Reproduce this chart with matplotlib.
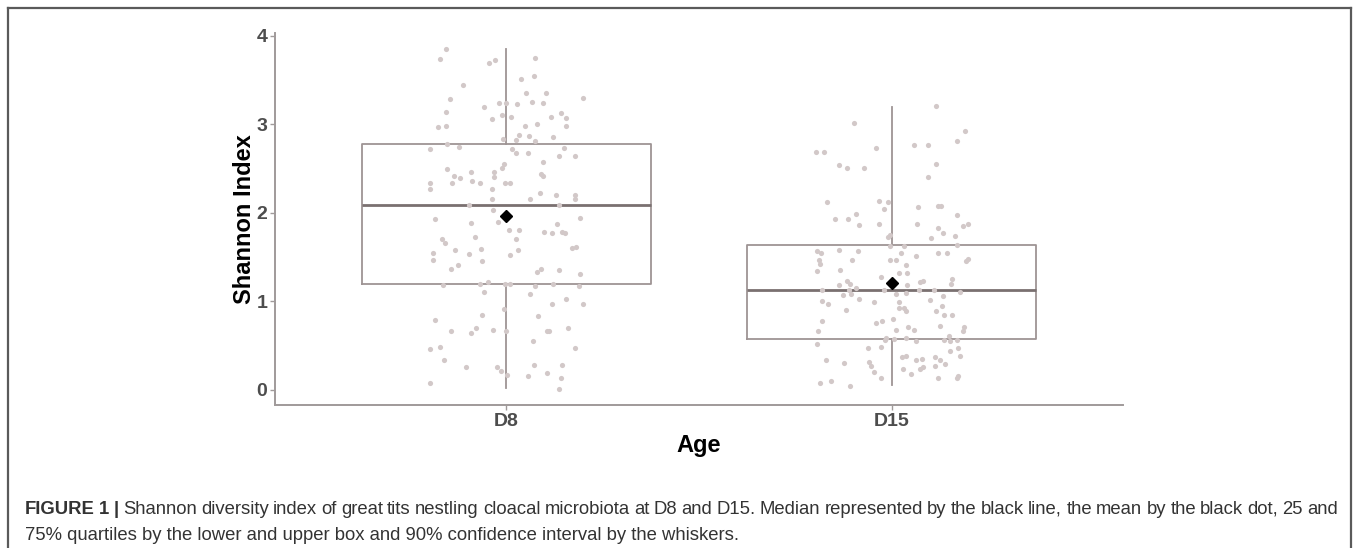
import numpy as np
import matplotlib
matplotlib.use("Agg")
import matplotlib.pyplot as plt
from matplotlib.lines import Line2D

# ------------------------- data ------------------------------------
groups = ["D8", "D15"]

# box statistics (median, quartiles, 90% CI whiskers, mean)
box_med = [2.09, 1.13]
box_q1 = [1.20, 0.58]
box_q3 = [2.78, 1.64]
box_lo = [0.02, 0.05]
box_hi = [3.85, 3.19]
box_mean = [1.96, 1.21]

# jittered raw points: horizontal offset from group centre, Shannon index
d8_dx = [-0.157, -0.173, -0.044, -0.028, 0.074, 0.038, 0.071, -0.111, 0.052, 0.102,
         0.199, -0.147, -0.019, 0.000, 0.027, 0.066, 0.094, -0.057, -0.157, -0.011,
         0.013, -0.038, 0.116, 0.143, 0.154, -0.178, -0.157, 0.048, 0.079, 0.155,
         0.058, 0.034, -0.009, 0.026, 0.075, 0.121, -0.153, -0.198, -0.122, 0.016,
         0.026, 0.057, 0.138, 0.177, 0.151, 0.094, -0.007, -0.011, -0.155, -0.135,
         -0.120, -0.091, -0.031, -0.033, 0.091, 0.095, -0.197, -0.197, -0.142, -0.088,
         -0.067, -0.036, -0.004, 0.009, -0.037, 0.061, 0.087, 0.129, 0.178, 0.178,
         -0.096, 0.136, -0.034, 0.192, -0.184,
         -0.091, -0.021, 0.132, 0.007, 0.034, 0.097, 0.118, 0.144, 0.152, -0.081,
         -0.166, -0.160, 0.024, -0.133, -0.066, 0.030, 0.171, 0.180, -0.190, -0.190,
         -0.096, 0.010, -0.063, -0.144, -0.124, 0.080, 0.090, 0.136, 0.190, -0.164,
         -0.069, -0.047, -0.004, 0.009, 0.075, 0.121, 0.189, -0.059, 0.062, 0.118,
         0.155, 0.199, -0.005, -0.063, 0.083, -0.184, -0.143, -0.079, -0.091, -0.035,
         -0.001, 0.106, 0.112, 0.161, 0.068, -0.198, -0.171, 0.177, -0.161, -0.105,
         -0.023, -0.013, 0.072, 0.145, 0.001, 0.057, 0.106, 0.141, -0.198, 0.138]
d8_y = [3.85, 3.74, 3.69, 3.72, 3.75, 3.51, 3.54, 3.44, 3.35, 3.35,
        3.29, 3.28, 3.24, 3.24, 3.23, 3.25, 3.24, 3.19, 3.14, 3.10,
        3.08, 3.06, 3.08, 3.12, 3.07, 2.97, 2.98, 2.98, 3.00, 2.98,
        2.87, 2.88, 2.83, 2.82, 2.81, 2.86, 2.78, 2.72, 2.74, 2.72,
        2.67, 2.67, 2.64, 2.64, 2.73, 2.57, 2.55, 2.50, 2.49, 2.42,
        2.39, 2.46, 2.46, 2.40, 2.44, 2.41, 2.33, 2.27, 2.33, 2.36,
        2.33, 2.27, 2.33, 2.34, 2.15, 2.15, 2.22, 2.20, 2.20, 2.16,
        2.09, 2.09, 2.03, 1.94, 1.93,
        1.88, 1.89, 1.87, 1.80, 1.81, 1.78, 1.77, 1.78, 1.77, 1.73,
        1.70, 1.66, 1.70, 1.58, 1.59, 1.58, 1.60, 1.61, 1.54, 1.47,
        1.53, 1.52, 1.45, 1.37, 1.41, 1.33, 1.37, 1.35, 1.31, 1.18,
        1.19, 1.22, 1.20, 1.20, 1.17, 1.19, 1.17, 1.11, 1.08, 0.97,
        1.03, 0.97, 0.91, 0.85, 0.83, 0.79, 0.67, 0.70, 0.64, 0.68,
        0.66, 0.66, 0.67, 0.70, 0.55, 0.46, 0.49, 0.47, 0.34, 0.26,
        0.26, 0.21, 0.28, 0.28, 0.17, 0.16, 0.19, 0.14, 0.08, 0.01]

d15_dx = [0.116, -0.097, 0.190, 0.169, 0.057, 0.093, -0.197, -0.177, -0.042, 0.116,
          -0.136, -0.116, -0.072, 0.093, -0.167, -0.034, -0.010, -0.019, 0.068, 0.120,
          0.127, -0.147, -0.114, -0.093, -0.086, -0.032, 0.065, 0.121, 0.133, 0.170,
          0.184, 0.198, 0.101, 0.164, -0.011, -0.005, -0.005, 0.033, 0.170, -0.195,
          -0.183, -0.136, -0.088, 0.023, -0.190, -0.185, -0.103, -0.004, 0.010, 0.062,
          0.119, 0.143, 0.192, 0.198, 0.036, -0.194, -0.134, -0.029, 0.018, 0.039,
          0.156, -0.117, -0.136, -0.092, -0.108, 0.039, 0.073, 0.082, 0.153, -0.180,
          -0.110, -0.019, 0.071, 0.109, -0.127, -0.105, -0.085, 0.012, 0.036, 0.133,
          0.176, -0.180, -0.165, -0.047, 0.020, 0.099, -0.120, 0.019, 0.033, 0.038,
          0.114, 0.129, 0.135, 0.156, -0.180, -0.041, -0.025, 0.004, -0.192, 0.011,
          0.043, 0.057, 0.126, 0.184, 0.187, -0.015, 0.006, 0.037, 0.062, -0.017,
          0.136, 0.148, 0.152, 0.168, -0.193, -0.061, -0.029, 0.150, 0.171, 0.027,
          0.036, 0.062, 0.079, 0.111, 0.124, 0.138, 0.178, -0.171, -0.123, -0.060,
          -0.055, -0.045, 0.030, 0.073, 0.081, 0.111, 0.051, 0.172, 0.170, -0.029,
          0.121, -0.185, -0.158, -0.109]
d15_y = [3.20, 3.01, 2.92, 2.81, 2.77, 2.77, 2.69, 2.68, 2.73, 2.55,
         2.54, 2.51, 2.51, 2.40, 2.12, 2.13, 2.12, 2.04, 2.06, 2.08,
         2.08, 1.93, 1.93, 1.98, 1.86, 1.87, 1.87, 1.83, 1.77, 1.97,
         1.85, 1.87, 1.72, 1.74, 1.73, 1.75, 1.63, 1.63, 1.64, 1.57,
         1.55, 1.58, 1.57, 1.55, 1.47, 1.42, 1.47, 1.47, 1.47, 1.51,
         1.54, 1.54, 1.45, 1.48, 1.41, 1.34, 1.35, 1.28, 1.32, 1.32,
         1.25, 1.23, 1.18, 1.15, 1.19, 1.18, 1.22, 1.23, 1.19, 1.13,
         1.13, 1.13, 1.13, 1.13, 1.07, 1.08, 1.03, 1.08, 1.09, 1.06,
         1.10, 1.00, 0.97, 0.99, 0.99, 1.02, 0.90, 0.92, 0.92, 0.89,
         0.89, 0.95, 0.85, 0.84, 0.78, 0.76, 0.78, 0.80, 0.67, 0.68,
         0.71, 0.68, 0.72, 0.67, 0.71, 0.59, 0.58, 0.59, 0.55, 0.56,
         0.56, 0.61, 0.55, 0.56, 0.52, 0.47, 0.48, 0.44, 0.47, 0.37,
         0.38, 0.34, 0.35, 0.37, 0.34, 0.29, 0.38, 0.34, 0.30, 0.31,
         0.27, 0.20, 0.24, 0.24, 0.26, 0.27, 0.18, 0.16, 0.14, 0.14,
         0.13, 0.08, 0.10, 0.04]

yticks = [0, 1, 2, 3, 4]
caption_bold = "FIGURE 1 |"
caption_l1 = ("Shannon diversity index of great tits nestling cloacal microbiota at D8 and D15. "
              "Median represented by the black line, the mean by the black dot, 25 and")
caption_l2 = "75% quartiles by the lower and upper box and 90% confidence interval by the whiskers."

# ------------------------- style ------------------------------------
plt.rcParams["font.family"] = ["Liberation Sans", "DejaVu Sans"]
BOX_C = "#9e9494"
MED_C = "#7a7070"
PT_C = "#d2c8c8"
AX_C = "#a09a9a"
TICK_C = "#4d4d4d"

fig = plt.figure(figsize=(13.58, 5.48), dpi=100)
ax = fig.add_axes([0.2025, 0.261, 0.6245, 0.679])

stats = []
for i in range(len(groups)):
    stats.append(dict(med=box_med[i], q1=box_q1[i], q3=box_q3[i],
                      whislo=box_lo[i], whishi=box_hi[i], mean=box_mean[i],
                      fliers=[], label=groups[i]))

ax.bxp(stats, positions=[1, 2], widths=0.75, showcaps=False, showfliers=False,
       showmeans=True, zorder=1,
       boxprops=dict(color=BOX_C, linewidth=1.3),
       whiskerprops=dict(color=BOX_C, linewidth=1.3),
       medianprops=dict(color=MED_C, linewidth=2.0),
       meanprops=dict(marker="D", markerfacecolor="black", markeredgecolor="black",
                      markersize=6, zorder=4))

ax.scatter(1 + np.array(d8_dx), d8_y, s=14, color=PT_C, linewidths=0, zorder=3)
ax.scatter(2 + np.array(d15_dx), d15_y, s=14, color=PT_C, linewidths=0, zorder=3)

ax.set_xlim(0.4, 2.6)
ax.set_ylim(-0.17, 4.03)
ax.set_xticks([1, 2])
ax.set_xticklabels(groups)
ax.set_yticks(yticks)
ax.set_yticklabels([str(t) for t in yticks])

for side in ["top", "right"]:
    ax.spines[side].set_visible(False)
for side in ["left", "bottom"]:
    ax.spines[side].set_color(AX_C)
    ax.spines[side].set_linewidth(1.4)
ax.tick_params(colors=AX_C, length=3.5, width=1.0, pad=2)
for lab in ax.get_xticklabels() + ax.get_yticklabels():
    lab.set_color(TICK_C)
    lab.set_fontweight("bold")
    lab.set_fontsize(14)

ax.set_ylabel("Shannon Index", fontsize=17, fontweight="bold", color="black", labelpad=0)
ax.set_xlabel("Age", fontsize=17, fontweight="bold", color="black", labelpad=3)

# frame around the figure panel (no bottom edge)
fw, fh = 1358, 548
for xs, ys in [((8, 1351), (fh - 8, fh - 8)), ((8, 8), (fh - 8, 0)), ((1351, 1351), (fh - 8, 0))]:
    fig.add_artist(Line2D([x / fw for x in xs], [y / fh for y in ys], color="#5a5a5a",
                          linewidth=1.6, transform=fig.transFigure))

# caption: first line justified between x=25 and x=1338 px
cap_c = "#333333"
cap_fs = 13.3
fig.canvas.draw()
rend = fig.canvas.get_renderer()
words = [(w, "bold") for w in caption_bold.split()] + [(w, "normal") for w in caption_l1.split()]
widths = []
for w, fwt in words:
    t = fig.text(0, 0, w, fontsize=cap_fs, fontweight=fwt)
    widths.append(t.get_window_extent(renderer=rend).width)
    t.remove()
gap = (1338 - 25 - sum(widths)) / (len(words) - 1)
x = 25.0
for (w, fwt), wd in zip(words, widths):
    fig.text(x / fw, 1 - 514 / fh, w, fontsize=cap_fs, fontweight=fwt, color=cap_c,
             va="baseline", ha="left")
    x += wd + gap
fig.text(25 / fw, 1 - 540 / fh, caption_l2, fontsize=cap_fs, color=cap_c,
         va="baseline", ha="left")

fig.savefig("out.png", dpi=100)
